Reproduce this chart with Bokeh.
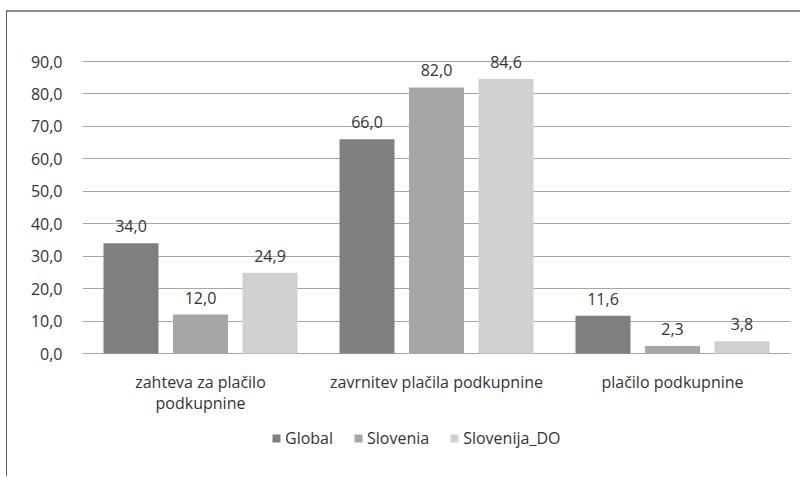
from bokeh.plotting import figure
from bokeh.models import ColumnDataSource, FactorRange, FixedTicker, Legend, LegendItem, Range1d
from bokeh.transform import dodge
from bokeh.core.properties import value
from bokeh.embed import file_html
from bokeh.resources import INLINE

categories = ["zahteva za plačilo\npodkupnine", "zavrnitev plačila podkupnine", "plačilo podkupnine"]
series_names = ["Global", "Slovenia", "Slovenija_DO"]
global_vals = [34.0, 66.0, 11.6]
slovenia_vals = [12.0, 82.0, 2.3]
slovenija_do_vals = [24.9, 84.6, 3.8]
y_ticks = [0, 10, 20, 30, 40, 50, 60, 70, 80, 90]

colors = ["#7f7f82", "#a6a6a8", "#d1d1d3"]
FONT = "Open Sans"
FS = "16px"
TEXT_COLOR = "#333333"

def fmt(v):
    return f"{v:.1f}".replace(".", ",")

# layout (px, inside the canvas)
W, H = 794, 466
LEFT, RIGHT = 75, 11
ROW_90 = 49                  # pixel row of value 90
ROW_0 = 341                  # pixel row of value 0
Y_TOP_TICK = 90
px_per_unit = (ROW_0 - ROW_90) / Y_TOP_TICK
y_start = -(H - ROW_0) / px_per_unit
y_end = Y_TOP_TICK + ROW_90 / px_per_unit

p = figure(x_range=FactorRange(*categories, range_padding=0, factor_padding=0, group_padding=0),
           y_range=Range1d(y_start, y_end),
           width=W, height=H, output_backend="svg", toolbar_location=None,
           min_border_left=LEFT, min_border_right=RIGHT, min_border_top=0, min_border_bottom=0)
p.styles = {"margin-left": "6px", "margin-top": "10px",
            "border-top": "2px solid #8c8c8c", "border-left": "1px solid #5a5a5a"}

series = [global_vals, slovenia_vals, slovenija_do_vals]
offsets = [-0.2945, 0.0, 0.2945]
renderers = []
for name, vals, col, off in zip(series_names, series, colors, offsets):
    src = ColumnDataSource(dict(cat=categories, val=vals, lab=[fmt(v) for v in vals]))
    r = p.vbar(x=dodge("cat", off, range=p.x_range), top="val", bottom=0, width=0.233, source=src,
               fill_color=col, line_color=None)
    renderers.append((name, r))
    p.text(x=dodge("cat", off, range=p.x_range), y="val", text="lab", source=src,
           text_align="center", text_baseline="alphabetic", y_offset=-17,
           text_font=value(FONT), text_font_size=FS, text_color=TEXT_COLOR)

# category labels under the zero line
cat_src = ColumnDataSource(dict(cat=categories, y=[0] * len(categories)))
p.text(x="cat", y="y", text="cat", source=cat_src, text_align="center", text_baseline="top",
       y_offset=17, text_line_height=0.98,
       text_font=value(FONT), text_font_size=FS, text_color=TEXT_COLOR)

p.xaxis.visible = False

p.yaxis.ticker = FixedTicker(ticks=y_ticks)
p.yaxis.major_label_overrides = {t: fmt(t) for t in y_ticks}
p.yaxis.axis_line_color = None
p.yaxis.major_tick_line_color = None
p.yaxis.minor_tick_line_color = None
p.yaxis.major_label_standoff = 14
p.yaxis.major_label_text_font = FONT
p.yaxis.major_label_text_font_size = FS
p.yaxis.major_label_text_color = TEXT_COLOR

p.xgrid.grid_line_color = None
p.ygrid.grid_line_color = "#a6a6a6"
p.ygrid.grid_line_width = 1.2
p.outline_line_color = None

legend = Legend(items=[LegendItem(label=n, renderers=[r]) for n, r in renderers],
                orientation="horizontal", location=(189, 29),
                label_text_font=FONT, label_text_font_size=FS, label_text_color=TEXT_COLOR,
                glyph_width=10, glyph_height=10, label_standoff=4, spacing=20,
                border_line_color=None, background_fill_alpha=0, padding=4)
p.add_layout(legend, "center")

open("out.html", "w").write(file_html(p, INLINE))
